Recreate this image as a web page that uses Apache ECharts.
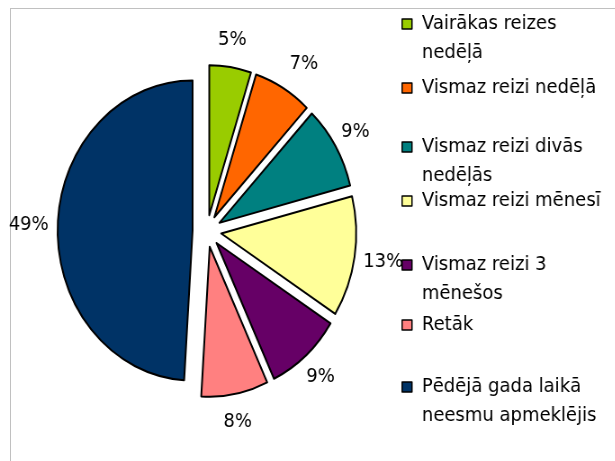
<!DOCTYPE html>
<html>
<head>
<meta charset="utf-8">
<script src="https://cdn.jsdelivr.net/npm/echarts@6/dist/echarts.min.js"></script>
<style>
  html, body { margin: 0; padding: 0; background: #fff; overflow: hidden; width: 615px; height: 461px; }
  #frame { position: absolute; left: 10px; top: 8px; width: 700px; height: 500px;
           border-left: 1px solid #c0c0c0; border-top: 1px solid #c0c0c0; }
  /* the source picture is squeezed horizontally, so the pie is an ellipse */
  #chart { position: absolute; left: 0; top: 0; width: 683px; height: 461px;
           transform: scaleX(0.9); transform-origin: 0 0; }
</style>
</head>
<body>
<div id="frame"></div>
<div id="chart"></div>
<script>
// 数据
const categories = [
  'Vairākas reizes\nnedēļā',
  'Vismaz reizi nedēļā',
  'Vismaz reizi divās\nnedēļās',
  'Vismaz reizi mēnesī',
  'Vismaz reizi 3\nmēnešos',
  'Retāk',
  'Pēdējā gada laikā\nneesmu apmeklējis'
];
const values = [5, 7, 9, 13, 9, 8, 49];
const colors = ['#99cc00', '#ff6600', '#008080', '#ffff99', '#660066', '#ff8080', '#003366'];

// 图例每一项第一行的中心 y
const legendCenters = [24, 88, 147, 201, 265, 325, 387];

const FONT = 'DejaVu Sans';
const LINE_H = 29;

const chart = echarts.init(document.getElementById('chart'), null, { renderer: 'canvas' });

// 两行的图例：前面补一个空行，让第一行和色块对齐
const legends = categories.map((name, i) => {
  const twoLines = name.indexOf('\n') >= 0;
  const h = (twoLines ? 3 : 1) * LINE_H;
  return {
    data: [name],
    left: 446,
    top: legendCenters[i] - h / 2,
    padding: 0,
    icon: 'rect',
    itemWidth: 11,
    itemHeight: 10,
    selectedMode: false,
    formatter: n => (twoLines ? '\n' + n : n),
    itemStyle: { borderColor: '#000', borderWidth: 1.5 },
    textStyle: {
      fontFamily: FONT,
      fontSize: 20,
      lineHeight: LINE_H,
      color: '#000',
      padding: [0, 0, 0, 6]
    }
  };
});

chart.setOption({
  animation: false,
  legend: legends,
  series: [{
    type: 'pie',
    center: [230, 231],
    radius: 150,
    startAngle: 90,
    selectedMode: 'multiple',
    selectedOffset: 16,
    avoidLabelOverlap: false,
    itemStyle: { borderColor: '#000', borderWidth: 2 },
    select: { itemStyle: { borderColor: '#000', borderWidth: 2 } },
    emphasis: { disabled: true },
    label: {
      position: 'outside',
      formatter: '{c}%',
      fontFamily: FONT,
      fontSize: 20,
      color: '#000',
      distanceToLabelLine: -18
    },
    labelLine: { show: false, length: 28, length2: 0 },
    data: values.map((v, i) => ({
      name: categories[i],
      value: v,
      selected: true,
      itemStyle: { color: colors[i] },
      label: i === 1 ? { distanceToLabelLine: -7 } : undefined
    }))
  }]
});
</script>
</body>
</html>
